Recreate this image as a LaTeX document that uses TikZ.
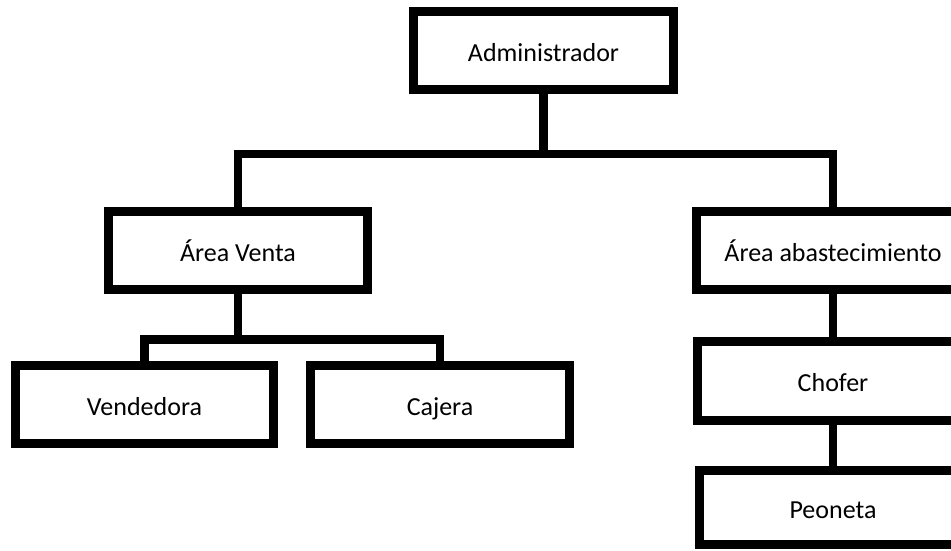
\documentclass[tikz,border=0pt]{standalone}
\usepackage{fontspec}
\setmainfont{Carlito}
\usetikzlibrary{positioning}

\tikzset{
  puesto/.style={draw, line width=9pt, minimum height=78pt, inner sep=0pt,
    text height=25pt, text depth=4pt,
    font=\fontsize{26}{30}\selectfont},
  enlace/.style={line width=8.5pt}
}

\begin{document}
\begin{tikzpicture}[x=1pt, y=-1pt]
\useasboundingbox (0,0) rectangle (951,550);
\clip (0,0) rectangle (951,550);

\node[puesto, minimum width=260pt] (admin) at (543.5,50.5) {Administrador};
\node[puesto, minimum width=259pt] (venta) at (238,250.5) {Área Venta};
\node[puesto, minimum width=273pt] (abast) at (833,250.5) {Área abastecimiento};
\node[puesto, minimum width=258pt] (vend) at (144.5,404.5) {Vendedora};
\node[puesto, minimum width=259pt] (caj) at (440,404.5) {Cajera};
\node[puesto, minimum width=271pt, minimum height=79pt] (chofer) at (833,381) {Chofer};
\node[puesto, minimum width=267pt, minimum height=74pt] (peon) at (833,507.5) {Peoneta};

\draw[enlace] (admin.south) -- ++(0,60) -| (venta.north);
\draw[enlace] (admin.south) -- ++(0,60) -| (abast.north);
\draw[enlace] (venta.south) -- ++(0,45.5) -| (vend.north);
\draw[enlace] (venta.south) -- ++(0,45.5) -| (caj.north);
\draw[enlace] (abast.south) -- (chofer.north);
\draw[enlace] (chofer.south) -- (peon.north);

\end{tikzpicture}
\end{document}
